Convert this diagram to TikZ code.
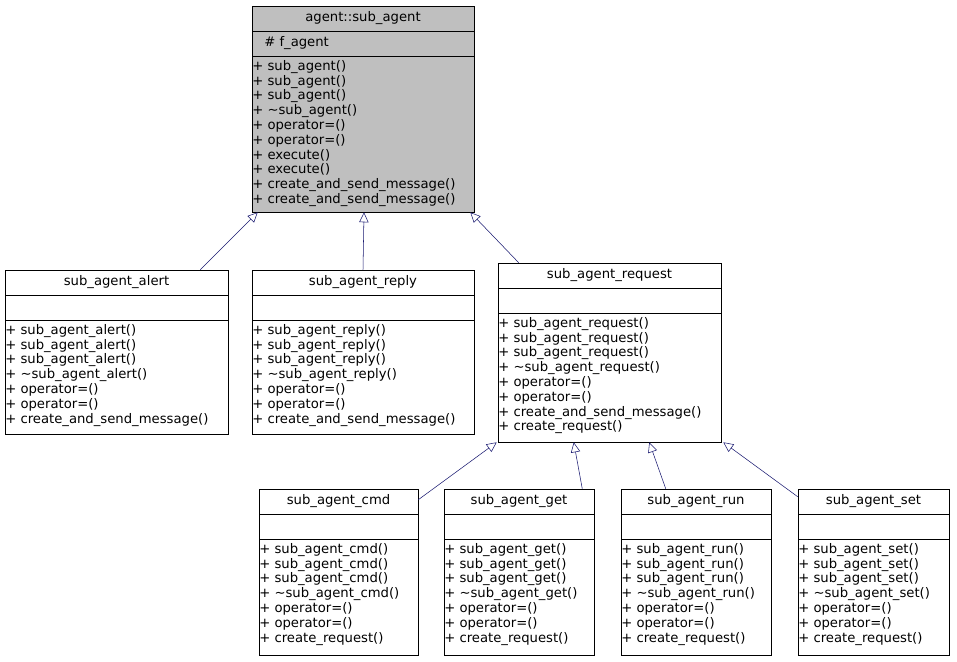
\documentclass[tikz,border=0pt]{standalone}
\usepackage{fontspec}
\setmainfont{DejaVu Sans}
\usetikzlibrary{arrows.meta,fit}

\definecolor{edgeblue}{HTML}{191970}
\definecolor{basegray}{HTML}{BFBFBF}

\tikzset{
  classbox/.style={draw, inner sep=0pt},
  classtext/.style={inner sep=0pt, font=\fontsize{9.9}{11.1}\selectfont},
  inherit/.style={draw=edgeblue, -{Triangle[open, length=7.5pt, width=7pt]}},
}

% #1 fill, #2 name, #3 x1, #4 y1, #5 x2, #6 y2, #7 title, #8 attributes, #9 methods
\newcommand{\umlclass}[9][white]{%
  \pgfmathsetmacro{\ya}{#4+25}%
  \pgfmathsetmacro{\yb}{#4+50}%
  \pgfmathsetmacro{\ym}{(#3+#5)/2}%
  \pgfmathsetmacro{\yt}{#4+12.5}%
  \fill[#1] (#3,#4) rectangle (#5,#6);
  \node[classbox, fit={(#3,#4) (#5,#6)}] (#2) {};
  \draw (#3,\ya) -- (#5,\ya);
  \draw (#3,\yb) -- (#5,\yb);
  \node[classtext] at (\ym,\yt) {#7};
  \node[classtext, anchor=west] at (#3+12,\ya+12) {#8};
  \node[classtext, anchor=north west, align=left] at (#3+0,\yb+4) {#9};
}

\begin{document}
\begin{tikzpicture}[x=0.75pt, y=-0.75pt]
  \useasboundingbox (0,0) rectangle (957,661);

  % base class
  \umlclass[basegray]{subagent}{252}{6}{474}{212}{agent::sub\_agent}{\# f\_agent}
    {+ sub\_agent()\\+ sub\_agent()\\+ sub\_agent()\\+ \textasciitilde sub\_agent()\\+ operator=()\\+ operator=()\\+ execute()\\+ execute()\\+ create\_and\_send\_message()\\+ create\_and\_send\_message()}

  % first level
  \umlclass{alert}{5}{270}{228}{434}{sub\_agent\_alert}{}
    {+ sub\_agent\_alert()\\+ sub\_agent\_alert()\\+ sub\_agent\_alert()\\+ \textasciitilde sub\_agent\_alert()\\+ operator=()\\+ operator=()\\+ create\_and\_send\_message()}
  \umlclass{reply}{252}{270}{474}{434}{sub\_agent\_reply}{}
    {+ sub\_agent\_reply()\\+ sub\_agent\_reply()\\+ sub\_agent\_reply()\\+ \textasciitilde sub\_agent\_reply()\\+ operator=()\\+ operator=()\\+ create\_and\_send\_message()}
  \umlclass{request}{498}{263}{721}{442}{sub\_agent\_request}{}
    {+ sub\_agent\_request()\\+ sub\_agent\_request()\\+ sub\_agent\_request()\\+ \textasciitilde sub\_agent\_request()\\+ operator=()\\+ operator=()\\+ create\_and\_send\_message()\\+ create\_request()}

  % second level
  \umlclass{cmd}{259}{489}{418}{655}{sub\_agent\_cmd}{}
    {+ sub\_agent\_cmd()\\+ sub\_agent\_cmd()\\+ sub\_agent\_cmd()\\+ \textasciitilde sub\_agent\_cmd()\\+ operator=()\\+ operator=()\\+ create\_request()}
  \umlclass{get}{444}{489}{594}{655}{sub\_agent\_get}{}
    {+ sub\_agent\_get()\\+ sub\_agent\_get()\\+ sub\_agent\_get()\\+ \textasciitilde sub\_agent\_get()\\+ operator=()\\+ operator=()\\+ create\_request()}
  \umlclass{run}{621}{489}{771}{655}{sub\_agent\_run}{}
    {+ sub\_agent\_run()\\+ sub\_agent\_run()\\+ sub\_agent\_run()\\+ \textasciitilde sub\_agent\_run()\\+ operator=()\\+ operator=()\\+ create\_request()}
  \umlclass{set}{798}{489}{949}{655}{sub\_agent\_set}{}
    {+ sub\_agent\_set()\\+ sub\_agent\_set()\\+ sub\_agent\_set()\\+ \textasciitilde sub\_agent\_set()\\+ operator=()\\+ operator=()\\+ create\_request()}

  % inheritance
  \draw[inherit] ([xshift=-21pt]alert.north east) -- ([xshift=4.5pt]subagent.south west);
  \draw[inherit] (reply.north) -- ([xshift=0.75pt]subagent.south);
  \draw[inherit] ([xshift=15.75pt]request.north west) -- ([xshift=-3pt]subagent.south east);
  \draw[inherit] ([yshift=-8.25pt]cmd.north east) -- ([xshift=-0.75pt]request.south west);
  \draw[inherit] ([xshift=-9pt]get.north east) -- ([xshift=57pt]request.south west);
  \draw[inherit] ([xshift=33.75pt]run.north west) -- ([xshift=-54pt]request.south east);
  \draw[inherit] ([yshift=-6pt]set.north west) -- ([xshift=1.5pt]request.south east);
\end{tikzpicture}
\end{document}
